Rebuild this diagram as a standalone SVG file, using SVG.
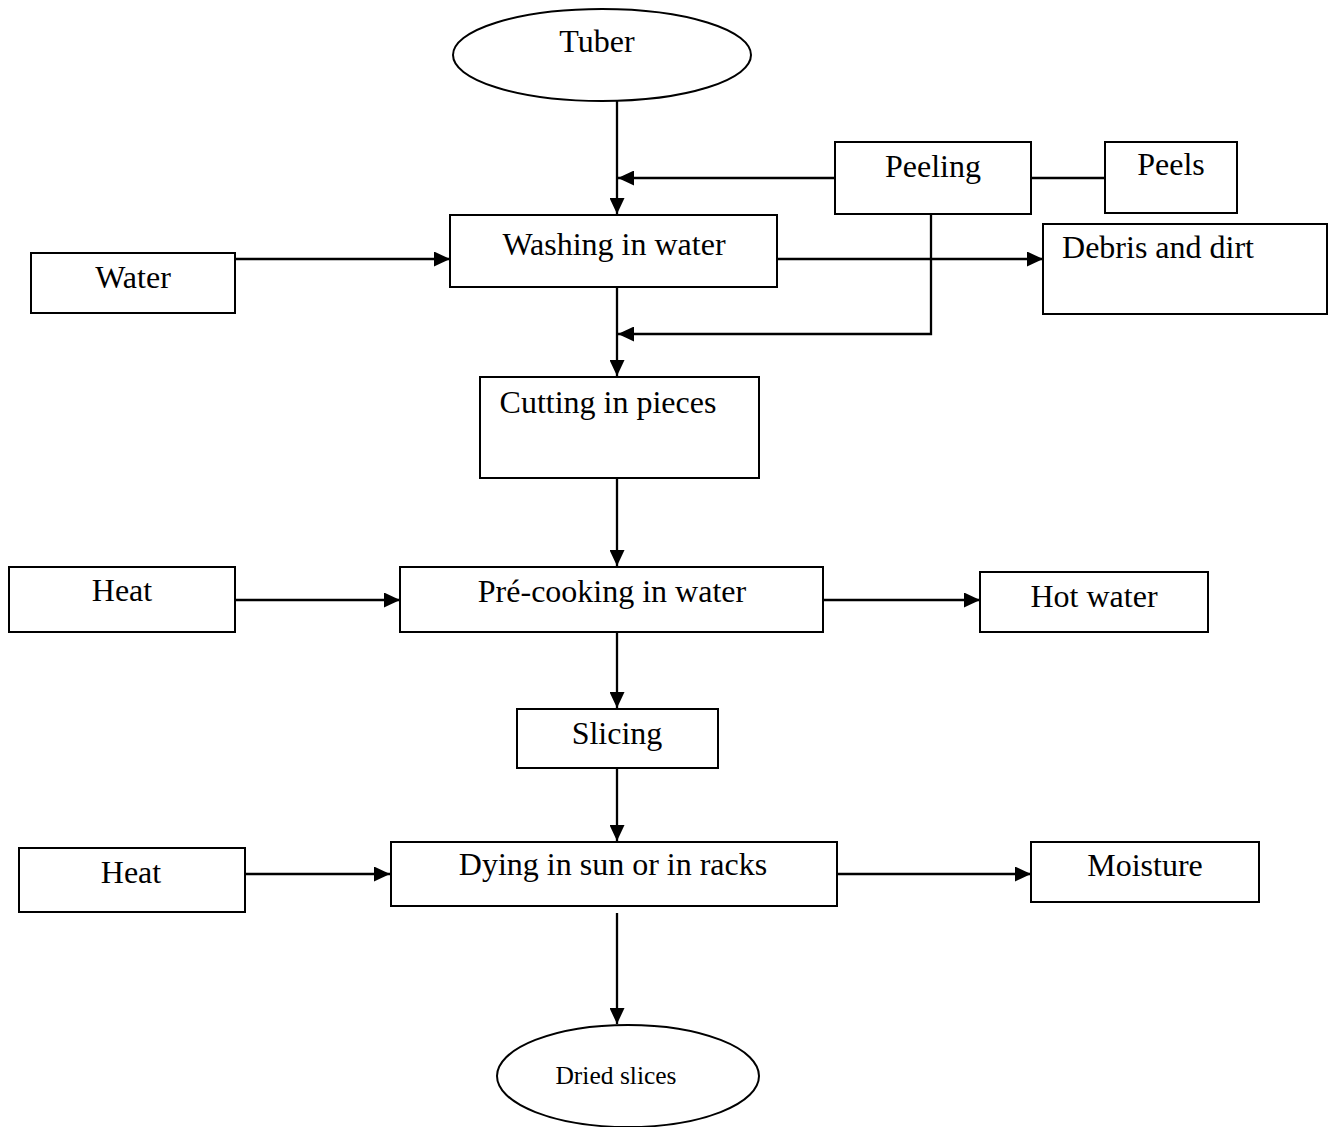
<svg xmlns="http://www.w3.org/2000/svg" width="1328" height="1127" viewBox="0 0 1328 1127">
<style>
.box{fill:#fff;stroke:#000;stroke-width:2}
.t{font-family:"Liberation Serif","Times New Roman",serif;font-size:32px;fill:#000;text-anchor:middle}
.s{font-size:25.5px}
.c{fill:none;stroke:#000;stroke-width:2.3}
</style>
<defs>
<marker id="ah" markerUnits="userSpaceOnUse" markerWidth="17" markerHeight="15" refX="16" refY="7.5" orient="auto">
<path d="M0,0 L16,7.5 L0,15 z" fill="#000"/>
</marker>
</defs>
<rect width="1328" height="1127" fill="#fff"/>
<g id="connectors">
<line class="c" x1="617" y1="101" x2="617" y2="214" marker-end="url(#ah)"/>
<line class="c" x1="835" y1="178" x2="618" y2="178" marker-end="url(#ah)"/>
<line class="c" x1="1031" y1="178" x2="1105" y2="178"/>
<line class="c" x1="235" y1="259" x2="450" y2="259" marker-end="url(#ah)"/>
<line class="c" x1="777" y1="259" x2="1043" y2="259" marker-end="url(#ah)"/>
<polyline class="c" points="931,214 931,334 618,334" marker-end="url(#ah)"/>
<line class="c" x1="617" y1="287" x2="617" y2="376" marker-end="url(#ah)"/>
<line class="c" x1="617" y1="478" x2="617" y2="566" marker-end="url(#ah)"/>
<line class="c" x1="235" y1="600" x2="400" y2="600" marker-end="url(#ah)"/>
<line class="c" x1="823" y1="600" x2="980" y2="600" marker-end="url(#ah)"/>
<line class="c" x1="617" y1="632" x2="617" y2="708" marker-end="url(#ah)"/>
<line class="c" x1="617" y1="768" x2="617" y2="841" marker-end="url(#ah)"/>
<line class="c" x1="245" y1="874" x2="390" y2="874" marker-end="url(#ah)"/>
<line class="c" x1="837" y1="874" x2="1031" y2="874" marker-end="url(#ah)"/>
<line class="c" x1="617" y1="913" x2="617" y2="1024" marker-end="url(#ah)"/>
</g>
<g id="tuber">
<ellipse class="box" cx="602" cy="55" rx="149" ry="46"/>
<text class="t" x="597" y="52">Tuber</text>
</g>
<g id="peeling">
<rect class="box" x="835" y="142" width="196" height="72"/>
<text class="t" x="933" y="177">Peeling</text>
</g>
<g id="peels">
<rect class="box" x="1105" y="142" width="132" height="71"/>
<text class="t" x="1171" y="175">Peels</text>
</g>
<g id="washing">
<rect class="box" x="450" y="215" width="327" height="72"/>
<text class="t" x="614" y="255">Washing in water</text>
</g>
<g id="water">
<rect class="box" x="31" y="253" width="204" height="60"/>
<text class="t" x="133" y="288">Water</text>
</g>
<g id="debris">
<rect class="box" x="1043" y="224" width="284" height="90"/>
<text class="t" x="1158" y="258">Debris and dirt</text>
</g>
<g id="cutting">
<rect class="box" x="480" y="377" width="279" height="101"/>
<text class="t" x="608" y="413">Cutting in pieces</text>
</g>
<g id="heat1">
<rect class="box" x="9" y="567" width="226" height="65"/>
<text class="t" x="122" y="601">Heat</text>
</g>
<g id="precooking">
<rect class="box" x="400" y="567" width="423" height="65"/>
<text class="t" x="612" y="602">Pré-cooking in water</text>
</g>
<g id="hotwater">
<rect class="box" x="980" y="572" width="228" height="60"/>
<text class="t" x="1094" y="607">Hot water</text>
</g>
<g id="slicing">
<rect class="box" x="517" y="709" width="201" height="59"/>
<text class="t" x="617" y="744">Slicing</text>
</g>
<g id="heat2">
<rect class="box" x="19" y="848" width="226" height="64"/>
<text class="t" x="131" y="883">Heat</text>
</g>
<g id="drying">
<rect class="box" x="391" y="842" width="446" height="64"/>
<text class="t" x="613" y="875">Dying in sun or in racks</text>
</g>
<g id="moisture">
<rect class="box" x="1031" y="842" width="228" height="60"/>
<text class="t" x="1145" y="876">Moisture</text>
</g>
<g id="dried">
<ellipse class="box" cx="628" cy="1076" rx="131" ry="51"/>
<text class="t s" x="616" y="1084">Dried slices</text>
</g>
</svg>
